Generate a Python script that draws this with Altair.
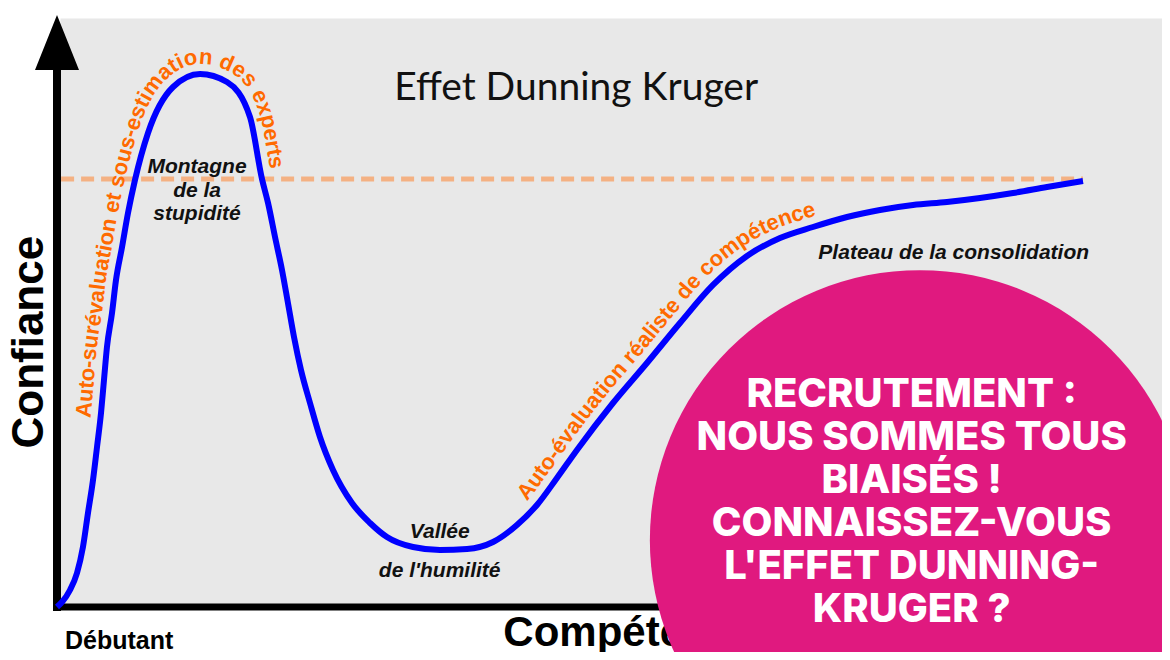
import math
import altair as alt
import numpy as np
import pandas as pd

# ---------------- data ----------------
COMPETENCE = [0, 0.49, 1.27, 1.95, 2.53, 3.02, 3.51, 3.90, 4.29, 4.58, 4.87, 5.36, 5.75, 6.34,
              6.92, 7.60, 8.87, 11.31, 13.94, 16.57, 18.81, 19.98, 20.57, 21.25, 21.93, 22.51,
              23.10, 23.78, 24.66, 25.63, 26.90, 28.75, 30.51, 32.16, 34.70, 37.33, 39.96,
              42.50, 44.83, 46.78, 48.73, 50.68, 54.19, 57.50, 60.72, 63.94, 67.25, 70.47,
              73.68, 77.00, 80.21, 83.43, 86.74, 89.96, 93.18, 96.49, 100]
CONFIANCE = [0, 0.93, 3.18, 6.36, 11.21, 17.57, 23.74, 29.91, 36.26, 42.43, 48.60, 54.95, 61.12,
             67.29, 73.64, 79.81, 88.60, 97.20, 99.63, 98.13, 91.59, 80.0, 75.51, 69.16, 62.99,
             56.82, 50.47, 44.30, 38.13, 31.78, 25.61, 19.44, 15.70, 13.08, 11.21, 10.65, 10.84,
             12.15, 15.33, 19.07, 24.11, 29.35, 38.13, 45.61, 53.08, 60.19, 65.61, 68.97,
             71.03, 72.90, 74.21, 75.14, 75.70, 76.45, 77.38, 78.50, 79.63]

TITLE = "Effet Dunning Kruger"
TITLE_POS = [50.6, 94.8]
Y_LABEL = "Confiance"
Y_LABEL_POS = [-1.36, 49.5]
X_LABEL = "Compétence"
X_LABEL_POS = [43.5, -7.3]
START_LABEL = "Débutant"
START_LABEL_POS = [0.78, -7.85]
DASH_LEVEL = 80
DASH_FROM_TO = [0.4, 100]
ARROW_POS = [0, 105.5]

ARC_TEXT_1 = "Auto-surévaluation et sous-estimation des experts"
ARC_TEXT_1_START_CONF = 35.0
ARC_TEXT_2 = "Auto-évaluation réaliste de compétence"
ARC_TEXT_2_START_COMP = 46.5

ZONE_LABELS = ["Montagne", "de la", "stupidité", "Vallée", "de l'humilité",
               "Plateau de la consolidation"]
ZONE_X = [13.65, 13.65, 13.65, 37.3, 37.3, 87.4]
ZONE_Y = [81.1, 76.6, 72.3, 12.9, 5.6, 65.0]

BANNER_LINES = ["RECRUTEMENT :", "NOUS SOMMES TOUS", "BIAISÉS !", "CONNAISSEZ-VOUS",
                "L'EFFET DUNNING-", "KRUGER ?"]
BANNER_CENTER = [83.3, 37.4]     # x of text centre, y of first baseline
BANNER_CIRCLE = [84.1, 12.5]

# ---------------- layout / style ----------------
ORIGIN_X_PX, ORIGIN_Y_PX = 57.0, 607.0      # page pixels of (0, 0)
PX_PER_X, PX_PER_Y = 10.26, 5.35
PLOT_LEFT, PLOT_TOP, PLOT_W, PLOT_H = 60, 18, 1102, 589
XMIN = (PLOT_LEFT - ORIGIN_X_PX) / PX_PER_X
XMAX = (PLOT_LEFT + PLOT_W - ORIGIN_X_PX) / PX_PER_X
YMIN = (ORIGIN_Y_PX - (PLOT_TOP + PLOT_H)) / PX_PER_Y
YMAX = (ORIGIN_Y_PX - PLOT_TOP) / PX_PER_Y
BANNER_LINE_PX = 43

BLUE = "#0000ff"
ORANGE = "#ff6a00"
DASH_COLOR = "#f4b183"
PINK = "#e0197f"
BG = "#e8e8e8"
FONT = "Liberation Sans"

ARC_W = {' ': 278, '-': 333, 'A': 722, 'a': 556, 'c': 556, 'd': 611, 'e': 556, 'é': 556,
         'i': 278, 'l': 278, 'm': 889, 'n': 611, 'o': 611, 'p': 611, 'r': 389, 's': 556,
         't': 333, 'u': 611, 'v': 556, 'x': 556}
ARC_FONT = 22
ARC_OFFSET = 10


def to_px(x, y):
    return ORIGIN_X_PX + np.asarray(x, float) * PX_PER_X, ORIGIN_Y_PX - np.asarray(y, float) * PX_PER_Y


def from_px(px, py):
    return (np.asarray(px) - ORIGIN_X_PX) / PX_PER_X, (ORIGIN_Y_PX - np.asarray(py)) / PX_PER_Y


def monotone_dense(xp, yp, n=30):
    """Same construction as d3.curveMonotoneX (used by interpolate='monotone')."""
    x = np.asarray(xp, float)
    y = np.asarray(yp, float)
    N = len(x)
    h = np.diff(x)
    s = np.diff(y) / h
    m = np.zeros(N)
    for i in range(1, N - 1):
        h0, h1, s0, s1 = h[i - 1], h[i], s[i - 1], s[i]
        p = (s0 * h1 + s1 * h0) / (h0 + h1)
        m[i] = (np.sign(s0) + np.sign(s1)) * min(abs(s0), abs(s1), 0.5 * abs(p))
    m[0] = (3 * s[0] - m[1]) / 2
    m[-1] = (3 * s[-1] - m[-2]) / 2
    pts = []
    t = np.linspace(0, 1, n, endpoint=False)[:, None]
    for i in range(N - 1):
        dx = h[i] / 3
        P0 = np.array([x[i], y[i]])
        P3 = np.array([x[i + 1], y[i + 1]])
        P1 = P0 + np.array([dx, dx * m[i]])
        P2 = P3 - np.array([dx, dx * m[i + 1]])
        pts.append((1 - t) ** 3 * P0 + 3 * (1 - t) ** 2 * t * P1 + 3 * (1 - t) * t ** 2 * P2 + t ** 3 * P3)
    pts.append(np.array([[x[-1], y[-1]]]))
    return np.vstack(pts)


cx_px, cy_px = to_px(COMPETENCE, CONFIANCE)
dense = monotone_dense(cx_px, cy_px)
tg = np.gradient(dense, axis=0)
tg = tg / np.maximum(np.linalg.norm(tg, axis=1, keepdims=True), 1e-9)
normal = np.column_stack([tg[:, 1], -tg[:, 0]])
offp = dense + ARC_OFFSET * normal
seg = np.linalg.norm(np.diff(offp, axis=0), axis=1)
S = np.concatenate([[0], np.cumsum(seg)])
dq = np.gradient(offp, axis=0)
ang = np.unwrap(np.arctan2(dq[:, 1], dq[:, 0]))


def arc_chars(text, start_idx):
    s = S[start_idx]
    rows = []
    for ch in text:
        w = ARC_W.get(ch, 556) / 1000 * ARC_FONT
        sc = s + w / 2
        s += w
        if ch == ' ':
            continue
        qx = np.interp(sc, S, offp[:, 0])
        qy = np.interp(sc, S, offp[:, 1])
        a = math.degrees(np.interp(sc, S, ang)) % 360
        dx, dy = from_px(qx, qy)
        rows.append({"x": float(dx), "y": float(dy), "ch": ch, "angle": float(a)})
    return rows


_, start_y_px = to_px(0, ARC_TEXT_1_START_CONF)
idx1 = int(np.argmax(dense[:, 1] <= start_y_px))
start_x_px, _ = to_px(ARC_TEXT_2_START_COMP, 0)
idx2 = int(np.argmax(dense[:, 0] >= start_x_px))
arc_df = pd.DataFrame(arc_chars(ARC_TEXT_1, idx1) + arc_chars(ARC_TEXT_2, idx2))

# ---------------- chart ----------------
xs = alt.Scale(domain=[XMIN, XMAX], nice=False, zero=False)
ys = alt.Scale(domain=[YMIN, YMAX], nice=False, zero=False)


def X(f="x"):
    return alt.X(f"{f}:Q", scale=xs, axis=None)


def Y(f="y"):
    return alt.Y(f"{f}:Q", scale=ys, axis=None)


curve_df = pd.DataFrame({"x": COMPETENCE, "y": CONFIANCE, "i": range(len(COMPETENCE))})

y_axis = alt.Chart(pd.DataFrame({"x": [ARROW_POS[0]], "y": [0], "y2": [ARROW_POS[1]]})).mark_rule(
    color="black", strokeWidth=8, strokeCap="square").encode(x=X(), y=Y(), y2="y2:Q")
x_axis = alt.Chart(pd.DataFrame({"x": [0], "x2": [XMAX + 2], "y": [0]})).mark_rule(
    color="black", strokeWidth=7, strokeCap="square").encode(x=X(), x2="x2:Q", y=Y())
arrow = alt.Chart(pd.DataFrame({"x": [ARROW_POS[0]], "y": [ARROW_POS[1]]})).mark_point(
    shape="M0,-1L0.8,1L-0.8,1Z", filled=True, size=3025, color="black", opacity=1,
    strokeWidth=0).encode(x=X(), y=Y())
dash = alt.Chart(pd.DataFrame({"x": [DASH_FROM_TO[0]], "x2": [DASH_FROM_TO[1]], "y": [DASH_LEVEL]})).mark_rule(
    color=DASH_COLOR, strokeWidth=5, strokeDash=[13, 7]).encode(x=X(), x2="x2:Q", y=Y())
curve = alt.Chart(curve_df).mark_line(color=BLUE, strokeWidth=6, interpolate="monotone").encode(
    x=X(), y=Y(), order="i:Q")
arc_text = alt.Chart(arc_df).mark_text(
    font=FONT, fontSize=ARC_FONT, fontWeight="bold", color=ORANGE, align="center",
    baseline="alphabetic").encode(x=X(), y=Y(), text="ch:N", angle=alt.Angle("angle:Q", scale=None))
zones = alt.Chart(pd.DataFrame({"x": ZONE_X, "y": ZONE_Y, "t": ZONE_LABELS})).mark_text(
    font=FONT, fontSize=21, fontWeight="bold", fontStyle="italic", color="#111111",
    align="center", baseline="alphabetic").encode(x=X(), y=Y(), text="t:N")
title = alt.Chart(pd.DataFrame({"x": [TITLE_POS[0]], "y": [TITLE_POS[1]], "t": [TITLE]})).mark_text(
    font="Lato", fontSize=39, color="#111111", align="center", baseline="alphabetic").encode(
    x=X(), y=Y(), text="t:N")
start_lbl = alt.Chart(pd.DataFrame({"x": [START_LABEL_POS[0]], "y": [START_LABEL_POS[1]], "t": [START_LABEL]})).mark_text(
    font=FONT, fontSize=25, fontWeight="bold", color="black", align="left", baseline="alphabetic").encode(
    x=X(), y=Y(), text="t:N")
x_lbl = alt.Chart(pd.DataFrame({"x": [X_LABEL_POS[0]], "y": [X_LABEL_POS[1]], "t": [X_LABEL]})).mark_text(
    font=FONT, fontSize=42, fontWeight="bold", color="black", align="left", baseline="alphabetic").encode(
    x=X(), y=Y(), text="t:N")
y_lbl = alt.Chart(pd.DataFrame({"x": [Y_LABEL_POS[0]], "y": [Y_LABEL_POS[1]], "t": [Y_LABEL]})).mark_text(
    font=FONT, fontSize=44, fontWeight="bold", color="black", align="center", baseline="alphabetic",
    angle=270).encode(x=X(), y=Y(), text="t:N")
circle = alt.Chart(pd.DataFrame({"x": [BANNER_CIRCLE[0]], "y": [BANNER_CIRCLE[1]]})).mark_point(
    shape="circle", filled=True, size=540 ** 2, color=PINK, opacity=1, strokeWidth=0).encode(x=X(), y=Y())
banner_df = pd.DataFrame({
    "x": [BANNER_CENTER[0]] * len(BANNER_LINES),
    "y": [BANNER_CENTER[1] - k * BANNER_LINE_PX / PX_PER_Y for k in range(len(BANNER_LINES))],
    "t": BANNER_LINES})
banner = alt.Chart(banner_df).mark_text(
    font="Inter", fontSize=40, fontWeight=800, color="white", align="center",
    baseline="alphabetic").encode(x=X(), y=Y(), text="t:N")

chart = alt.layer(
    y_axis, x_axis, arrow, dash, curve, arc_text, zones, title, start_lbl, x_lbl, y_lbl, circle, banner
).properties(
    width=PLOT_W, height=PLOT_H,
    padding={"left": 52, "top": 10, "right": 0, "bottom": 45},
    autosize=alt.AutoSizeParams(type="none"),
    background="white",
).configure_view(fill=BG, stroke="transparent")

chart.save("out.html", embed_options={"renderer": "svg", "actions": False})
